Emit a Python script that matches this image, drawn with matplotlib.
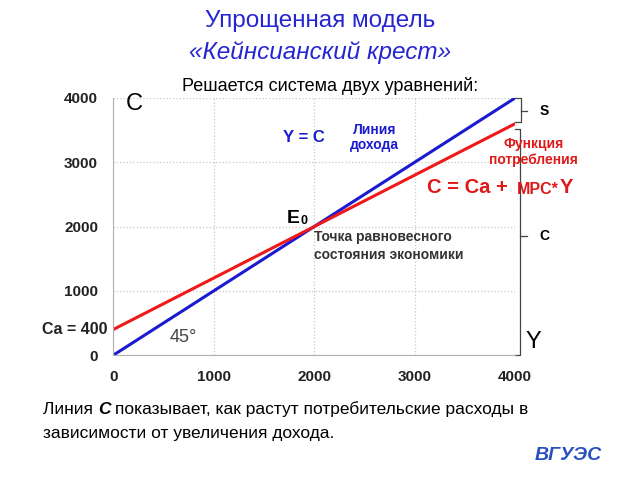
import numpy as np
import matplotlib.pyplot as plt

plt.rcParams['font.family'] = ['Liberation Sans', 'DejaVu Sans']

# model data
income = [0, 4000]
Ca = 400
MPC = 0.8
consumption = [Ca + MPC * y for y in income]
ticks = [0, 1000, 2000, 3000, 4000]

fig = plt.figure(figsize=(6.4, 4.8), dpi=100)
ax = fig.add_axes([0.177, 0.26, 0.628, 0.536])

ax.plot(income, income, color='#1a1ad0', lw=2.2, solid_capstyle='butt')
ax.plot(income, consumption, color='#f01818', lw=2.2, solid_capstyle='butt')

ax.set_xlim(0, 4000)
ax.set_ylim(0, 4000)
ax.set_xticks(ticks)
ax.set_yticks(ticks)
ax.grid(True, color='#c8c8c8', ls=':', lw=0.9)
for s in ['top', 'right']:
    ax.spines[s].set_visible(False)
for s in ['left', 'bottom']:
    ax.spines[s].set_color('#b0b0b0')
ax.tick_params(length=0, labelsize=11, labelcolor='#222222', pad=11)
for lab in ax.get_xticklabels() + ax.get_yticklabels():
    lab.set_fontweight('bold')

# titles
fig.text(0.5, 0.957, 'Упрощенная модель', ha='center', va='center',
         fontsize=17.5, color='#2626d0')
fig.text(0.5, 0.89, '«Кейнсианский крест»', ha='center', va='center',
         fontsize=17.5, color='#2626d0', style='italic')
fig.text(0.515, 0.82, 'Решается система двух уравнений:', ha='center',
         va='center', fontsize=13, color='black')

# annotations inside the chart
ax.text(120, 3900, 'C', fontsize=17, va='center', ha='left')
ax.text(1900, 3390, 'Y = C', fontsize=12, color='#1a1ad0', weight='bold',
        ha='center', va='center')
ax.text(2600, 3390, 'Линия\nдохода', fontsize=10, color='#1a1ad0',
        weight='bold', ha='center', va='center', linespacing=1.1)
ax.text(4180, 3160, 'Функция\nпотребления', fontsize=10, color='#e01818',
        weight='bold', ha='center', va='center', linespacing=1.2)
eq1 = ax.text(3120, 2520, 'C = Ca +', fontsize=14.5, color='#e01818',
              weight='bold', ha='left', va='baseline')
eq2 = ax.annotate('MPC*', xy=(1, 0), xycoords=eq1, xytext=(7, 0),
                  textcoords='offset points', fontsize=11.5,
                  color='#e01818', weight='bold', ha='left', va='bottom')
ax.annotate('Y', xy=(1, 0), xycoords=eq2, fontsize=14.5, color='#e01818',
            weight='bold', ha='left', va='bottom')
e0 = ax.text(1730, 2000, 'E', fontsize=14, weight='bold', ha='left',
             va='bottom')
ax.annotate('0', xy=(1, 0), xycoords=e0, fontsize=9, weight='bold',
            ha='left', va='bottom')
ax.text(2000, 1700, 'Точка равновесного\nсостояния экономики', fontsize=10,
        weight='bold', color='#333333', ha='left', va='center',
        linespacing=1.3)
ax.text(560, 280, '45°', fontsize=13, color='#444444', ha='left',
        va='center')
ax.text(-60, Ca, 'Ca = 400', fontsize=11.5, ha='right', va='center',
        color='#222222', weight='bold', clip_on=False)

# brackets on the right
xb = 4060
top_s = income[-1]
bot_s = consumption[-1]
kw = dict(color='#444444', lw=0.9, clip_on=False)
ax.plot([4000, xb, xb, 4000], [top_s, top_s, bot_s + 20, bot_s + 20], **kw)
ax.plot([xb, xb + 60], [(top_s + bot_s) / 2] * 2, **kw)
ax.text(xb + 180, (top_s + bot_s) / 2, 'S', fontsize=10, weight='bold',
        ha='left', va='center')
ax.plot([4000, xb - 10, xb - 10, 4000], [bot_s - 80, bot_s - 80, 0, 0], **kw)
ax.plot([xb - 10, xb + 60], [bot_s / 2 + 50] * 2, **kw)
ax.text(xb + 180, bot_s / 2 + 50, 'C', fontsize=10, weight='bold',
        ha='left', va='center')
ax.text(xb + 40, 200, 'Y', fontsize=17, ha='left', va='center')

# bottom note
n1 = fig.text(0.067, 0.138, 'Линия ', fontsize=12.5, ha='left',
              va='baseline')
c_note = fig.add_artist(plt.Annotation('C', xy=(1, 0), xycoords=n1,
                                       fontsize=12.5, weight='bold',
                                       style='italic', ha='left',
                                       va='bottom'))
fig.add_artist(plt.Annotation(' показывает, как растут потребительские '
                              'расходы в', xy=(1, 0), xycoords=c_note,
                              fontsize=12.5, ha='left', va='bottom'))
fig.text(0.067, 0.088, 'зависимости от увеличения дохода.', fontsize=12.5,
         ha='left', va='baseline')

# logo
fig.text(0.835, 0.05, 'ВГУЭС', fontsize=14, color='#2a4fc0',
         style='italic', weight='bold', ha='left', va='center')

fig.savefig('out.png', dpi=100)
